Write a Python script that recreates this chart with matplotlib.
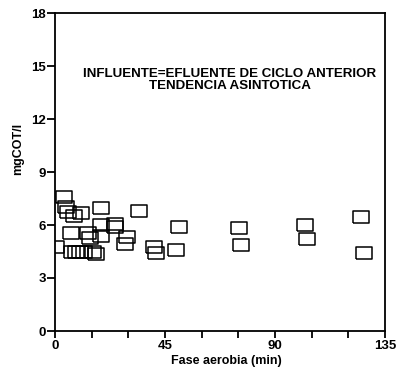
import matplotlib
matplotlib.use("Agg")
from matplotlib import pyplot as plt
from matplotlib.ticker import MultipleLocator

# COT concentration during the aerobic phase (influent = effluent of previous cycle)
tiempo_min = [3.7, 4.7, 5.3, 7.8, 10.6, 18.8, 34.2, 6.5, 13.3, 14.5, 19.0, 24.5, 24.5,
              18.8, 29.5, 28.6, 40.3, 41.3, 0.4, 7.0, 8.6, 10.2, 11.9, 15.5, 16.8,
              50.7, 49.3, 75.1, 75.9, 102.1, 103.1, 125.2, 126.4]
cot_mg_l = [7.6, 7.0, 6.73, 6.5, 6.67, 6.99, 6.78, 5.57, 5.52, 5.26, 6.0, 6.06, 5.9,
            5.37, 5.3, 4.92, 4.78, 4.44, 4.75, 4.45, 4.45, 4.45, 4.45, 4.47, 4.37,
            5.89, 4.58, 5.83, 4.84, 6.0, 5.18, 6.45, 4.39]

x_ticks = [0, 45, 90, 135]
y_ticks = [0, 3, 6, 9, 12, 15, 18]
nota = "INFLUENTE=EFLUENTE DE CICLO ANTERIOR\nTENDENCIA ASINTOTICA"

plt.rcParams['font.family'] = ['Liberation Sans', 'DejaVu Sans']
plt.rcParams['font.weight'] = 'bold'

fig = plt.figure(figsize=(3.99, 3.70), dpi=100)
ax = fig.add_axes([55 / 399, 39 / 370, 330 / 399, 318 / 370])

rect = [(-1, -0.75), (1, -0.75), (1, 0.75), (-1, 0.75), (-1, -0.75)]
ax.plot(tiempo_min, cot_mg_l, linestyle='none', marker=rect, markersize=11.5,
        markerfacecolor='none', markeredgecolor='black', markeredgewidth=1.1)

ax.set_xlim(0, 135)
ax.set_ylim(0, 18)
ax.set_xticks(x_ticks)
ax.set_yticks(y_ticks)
ax.xaxis.set_minor_locator(MultipleLocator(15))

for s in ax.spines.values():
    s.set_linewidth(1.3)
ax.tick_params(which='both', direction='out', width=1.3, labelsize=9.5, color='black')
ax.tick_params(axis='x', which='major', length=5, pad=1.5)
ax.tick_params(axis='x', which='minor', length=5)
ax.tick_params(axis='y', which='major', length=6, pad=0.5)
for lbl in ax.get_xticklabels() + ax.get_yticklabels():
    lbl.set_fontweight('bold')

ax.set_xlabel('Fase aerobia (min)', fontsize=9, fontweight='bold')
ax.xaxis.set_label_coords(0.518, -0.075)
ax.set_ylabel('mgCOT/l', fontsize=9, fontweight='bold')
ax.yaxis.set_label_coords(-0.095, 0.572)

ax.text(71.6, 14.2, nota, ha='center', va='center', multialignment='center',
        fontsize=9.6, fontweight='bold', linespacing=1.05)

fig.savefig('out.png', dpi=100)
